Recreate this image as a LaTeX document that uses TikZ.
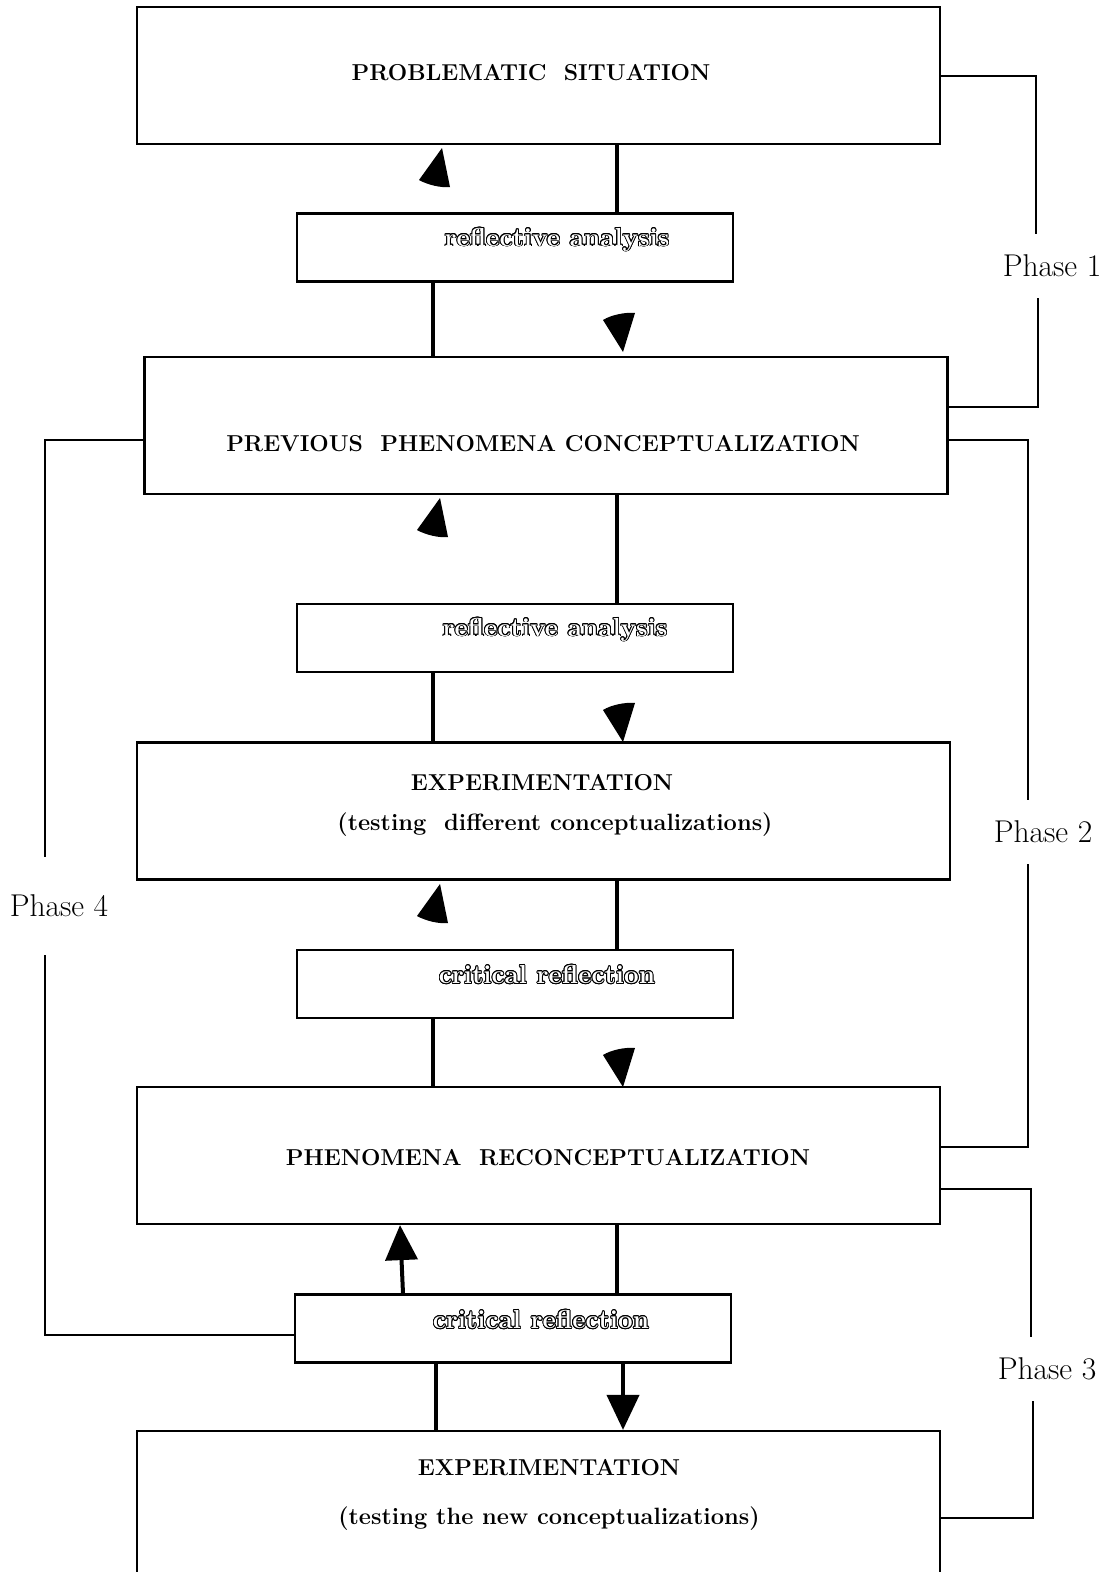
\documentclass[tikz,border=0pt]{standalone}
\usepackage{tikz}
\usepackage{contour}
\usetikzlibrary{arrows.meta}

\contourlength{0.9pt}
\contournumber{16}
\newcommand{\outl}[1]{\contour{black}{\textcolor{white}{#1}}}

% detached wedge tips between the boxes
\newcommand{\tipup}[1]{\fill[shift={(#1)}] (0,0) -- (-23,32) .. controls (-14,37) and (-1,40) .. (8,39) -- cycle;}
\newcommand{\tipdown}[1]{\fill[shift={(#1)}] (0,0) -- (-20,-32) .. controls (-12,-37) and (2,-40) .. (12,-39) -- cycle;}

\tikzset{
  bigbox/.style={draw, line width=2.2pt, minimum width=803pt, minimum height=137pt, inner sep=0pt},
  smallbox/.style={draw, line width=2.2pt, minimum width=436pt, minimum height=68pt, inner sep=0pt},
  link/.style={line width=4pt},
  brace/.style={line width=2pt},
  title/.style={font=\fontsize{23}{27}\selectfont\bfseries},
  subtitle/.style={font=\fontsize{23.6}{28}\selectfont\bfseries},
  outtext/.style={font=\fontsize{26}{30}\selectfont\bfseries},
  phase/.style={font=\fontsize{31.5}{34}\selectfont, inner sep=0pt, minimum height=64pt},
}

\begin{document}
\begin{tikzpicture}[x=1pt, y=-1pt]

  \useasboundingbox (0,0) rectangle (1112,1572);

  % Boxes
  \node[bigbox] (B1) at (538.5,75.5) {};
  \node[smallbox] (R1) at (515,247.5) {};
  \node[bigbox] (B2) at (546,425.5) {};
  \node[smallbox] (R2) at (515,638) {};
  \node[bigbox, minimum width=813pt] (B3) at (543.5,811) {};
  \node[smallbox] (R3) at (515,984) {};
  \node[bigbox] (B4) at (538.5,1155.5) {};
  \node[smallbox] (R4) at (513,1328.5) {};
  \node[bigbox, minimum height=145pt] (B5) at (538.5,1503.5) {};

  % Texts in the boxes
  \node[title] (t1) at (531,73) {PROBLEMATIC\ \ SITUATION};
  \node[outtext] (s1) at (557,240) {\outl{reflective analysis}};
  \node[title] (t2) at (543,444) {PREVIOUS\ \ PHENOMENA CONCEPTUALIZATION};
  \node[outtext] (s2) at (555,630) {\outl{reflective analysis}};
  \node[title] (t3) at (542,783) {EXPERIMENTATION};
  \node[subtitle] (t3b) at (555,825) {(testing\ \ different conceptualizations)};
  \node[outtext] (s3) at (547,975) {\outl{critical reflection}};
  \node[title] (t4) at (548,1158) {PHENOMENA\ \ RECONCEPTUALIZATION};
  \node[outtext] (s4) at (541,1320) {\outl{critical reflection}};
  \node[title] (t5) at (549,1468) {EXPERIMENTATION};
  \node[subtitle] (t5b) at (549,1519) {(testing the new conceptualizations)};

  % Vertical links
  \draw[link] ([xshift=102]R1.north) -- ([xshift=102]R1.north |- B1.south);
  \draw[link] ([xshift=-82]R1.south) -- ([xshift=-82]R1.south |- B2.north);
  \draw[link] ([xshift=102]R2.north) -- ([xshift=102]R2.north |- B2.south);
  \draw[link] ([xshift=-82]R2.south) -- ([xshift=-82]R2.south |- B3.north);
  \draw[link] ([xshift=102]R3.north) -- ([xshift=102]R3.north |- B3.south);
  \draw[link] ([xshift=-82]R3.south) -- ([xshift=-82]R3.south |- B4.north);
  \draw[link] ([xshift=104]R4.north) -- ([xshift=104]R4.north |- B4.south);
  \draw[link] ([xshift=-77]R4.south) -- ([xshift=-77]R4.south |- B5.north);

  % Arrows out of the last reflection
  \draw[link, -{Triangle[length=35pt, width=32pt]}] ([xshift=-110]R4.north) -- ([xshift=-113]R4.north |- B4.south);
  \draw[link, -{Triangle[length=35pt, width=32pt]}] ([xshift=110]R4.south) -- ([xshift=110]R4.south |- B5.north);

  % Wedge tips
  \coordinate (u1) at (442,148);
  \coordinate (u2) at (440,498);
  \coordinate (u3) at (440,884);
  \coordinate (d1) at (623,352);
  \coordinate (d2) at (623,742);
  \coordinate (d3) at (623,1087);
  \tipup{u1} \tipup{u2} \tipup{u3}
  \tipdown{d1} \tipdown{d2} \tipdown{d3}

  % Phase labels
  \node[phase] (P1) at (1052,266) {Phase 1};
  \node[phase] (P2) at (1043,832) {Phase 2};
  \node[phase] (P3) at (1047,1369) {Phase 3};
  \node[phase, minimum height=97pt] (P4) at (59,906) {Phase 4};

  % Brackets
  \draw[brace] (B1.east) -| ([xshift=-16]P1.north);
  \draw[brace] ([yshift=18.5]B2.east) -| ([xshift=-14]P1.south);
  \draw[brace] ([yshift=-14.5]B2.east) -| ([xshift=-15]P2.north);
  \draw[brace] ([yshift=8.5]B4.east) -| ([xshift=-15]P2.south);
  \draw[brace] ([yshift=-33.5]B4.east) -| ([xshift=-16]P3.north);
  \draw[brace] ([yshift=-14.5]B5.east) -| ([xshift=-14]P3.south);
  \draw[brace] ([yshift=-14.5]B2.west) -| ([xshift=-14]P4.north);
  \draw[brace] ([yshift=-6.5]R4.west) -| ([xshift=-14]P4.south);

\end{tikzpicture}
\end{document}
